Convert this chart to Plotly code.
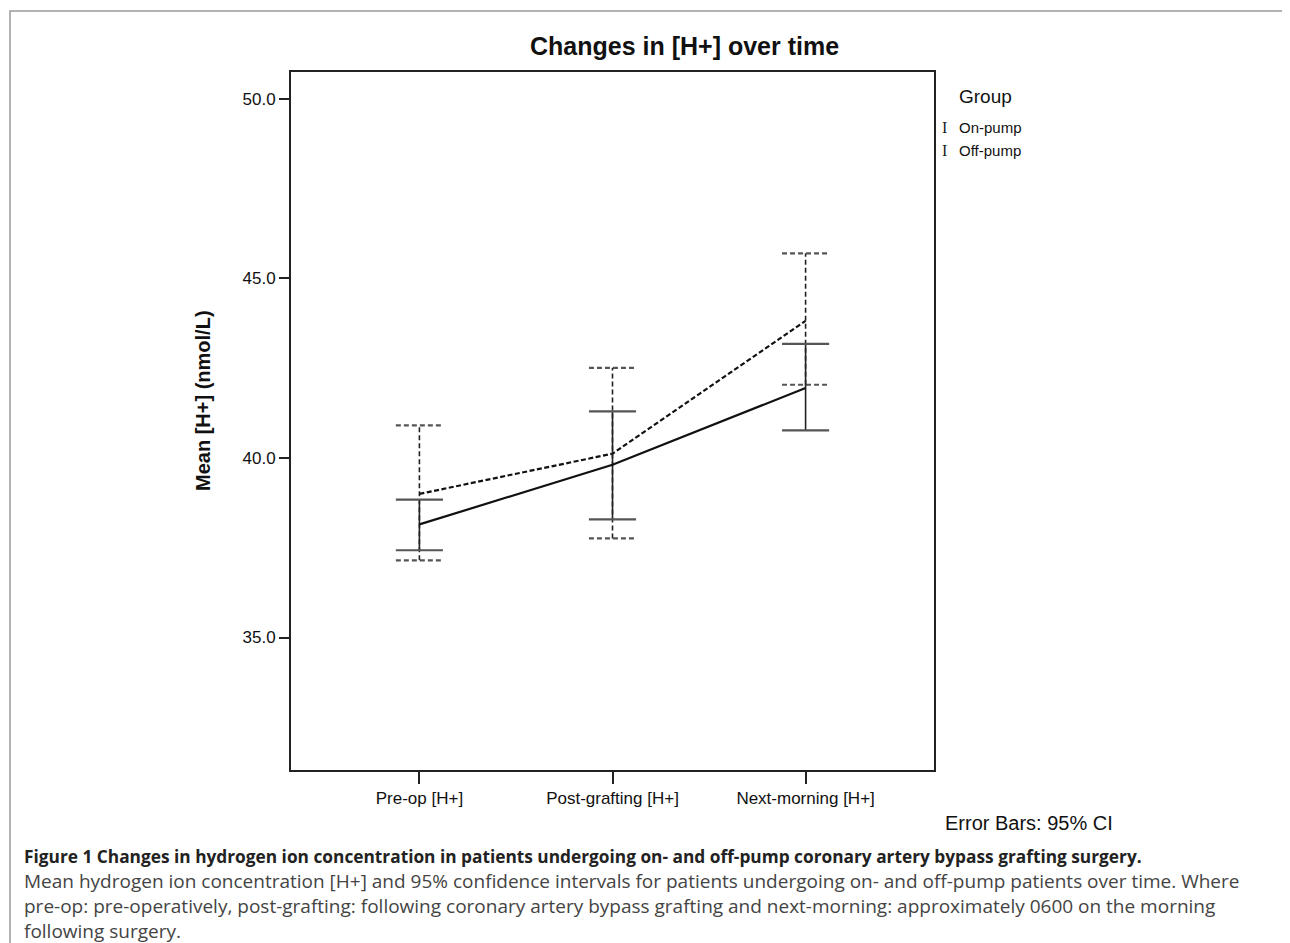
import plotly.graph_objects as go

# Data (mean [H+] nmol/L and 95% CI)
categories = ["Pre-op [H+]", "Post-grafting [H+]", "Next-morning [H+]"]
on_mean = [38.15, 39.81, 41.95]
on_lo = [37.43, 38.29, 40.77]
on_hi = [38.84, 41.30, 43.18]
off_mean = [39.00, 40.12, 43.82]
off_lo = [37.15, 37.76, 42.04]
off_hi = [40.91, 42.51, 45.70]
y_ticks = [35.0, 40.0, 45.0, 50.0]

caption_bold = ("Figure 1 Changes in hydrogen ion concentration in patients undergoing on- and "
                "off-pump coronary artery bypass grafting surgery.")
caption_lines = [
    "Mean hydrogen ion concentration [H+] and 95% confidence intervals for patients undergoing on- and off-pump patients over time. Where",
    "pre-op: pre-operatively, post-grafting: following coronary artery bypass grafting and next-morning: approximately 0600 on the morning",
    "following surgery.",
]

W, H = 1290, 943
L, R, T, B = 283, 926, 64, 762   # plot box in pixels
CAP = 0.122  # half width of error bar caps (x units)
FONT = "Liberation Sans, Arial, sans-serif"


def px(x):
    return (x - L) / (R - L)


def py(y):
    return (B - y) / (B - T)


def bar_paths(lo, hi):
    # vertical stems and caps for error bars, built from the CI lists
    vx, vy, cx, cy = [], [], [], []
    for i in range(len(lo)):
        vx += [i, i, None]
        vy += [lo[i], hi[i], None]
        for v in (lo[i], hi[i]):
            cx += [i - CAP, i + CAP, None]
            cy += [v, v, None]
    return vx, vy, cx, cy


idx = list(range(len(categories)))
fig = go.Figure()

# Off-pump (dashed)
vx, vy, cx, cy = bar_paths(off_lo, off_hi)
fig.add_trace(go.Scatter(x=vx, y=vy, mode="lines", line=dict(color="#222", width=1.6, dash="5px,3px"),
                         hoverinfo="skip", showlegend=False))
fig.add_trace(go.Scatter(x=cx, y=cy, mode="lines", line=dict(color="#555", width=2.2, dash="5px,3px"),
                         hoverinfo="skip", showlegend=False))
fig.add_trace(go.Scatter(x=idx, y=off_mean, mode="lines", name="Off-pump",
                         line=dict(color="#111", width=2.2, dash="5px,2.5px"), showlegend=False))

# On-pump (solid)
vx, vy, cx, cy = bar_paths(on_lo, on_hi)
fig.add_trace(go.Scatter(x=vx, y=vy, mode="lines", line=dict(color="#222", width=1.6),
                         hoverinfo="skip", showlegend=False))
fig.add_trace(go.Scatter(x=cx, y=cy, mode="lines", line=dict(color="#555", width=2.2),
                         hoverinfo="skip", showlegend=False))
fig.add_trace(go.Scatter(x=idx, y=on_mean, mode="lines", name="On-pump",
                         line=dict(color="#111", width=2.2), showlegend=False))

fig.update_xaxes(range=[-0.665, 2.665], tickvals=idx, ticktext=categories,
                 showline=True, mirror=True, linecolor="#222", linewidth=2,
                 ticks="outside", ticklen=12, tickwidth=1.5, tickcolor="#222",
                 showgrid=False, zeroline=False,
                 tickfont=dict(family=FONT, size=17, color="#111"))
fig.update_yaxes(range=[31.31, 50.75], tickvals=y_ticks, tickformat=".1f",
                 showline=True, mirror=True, linecolor="#222", linewidth=2,
                 ticks="outside", ticklen=10, tickwidth=1.5, tickcolor="#222",
                 showgrid=False, zeroline=False,
                 tickfont=dict(family=FONT, size=17, color="#111"))

ann = []
ann.append(dict(text="<b>Changes in [H+] over time</b>", x=px(676), y=py(38),
                font=dict(family=FONT, size=25, color="#111")))
ann.append(dict(text="<b>Mean [H+] (nmol/L)</b>", x=px(195), y=py(393), textangle=-90,
                font=dict(family=FONT, size=20, color="#111")))
ann.append(dict(text="Group", x=px(949), y=py(88), xanchor="left",
                font=dict(family=FONT, size=19, color="#111")))
for label, yy in (("On-pump", 120), ("Off-pump", 142)):
    ann.append(dict(text="I", x=px(936), y=py(yy),
                    font=dict(family="Liberation Serif, serif", size=16, color="#222")))
    ann.append(dict(text=label, x=px(949), y=py(yy), xanchor="left",
                    font=dict(family=FONT, size=15, color="#111")))
ann.append(dict(text="Error Bars: 95% CI", x=px(935), y=py(815), xanchor="left",
                font=dict(family=FONT, size=20, color="#111")))
ann.append(dict(text="<b>" + caption_bold + "</b>", x=px(14), y=py(848), xanchor="left",
                font=dict(family="Open Sans, sans-serif", size=17.3, color="#222")))
for k, line in enumerate(caption_lines):
    ann.append(dict(text=line, x=px(14), y=py(873 + 25 * k), xanchor="left",
                    font=dict(family="Open Sans, sans-serif", size=19, color="#444")))
for a in ann:
    a.update(xref="paper", yref="paper", showarrow=False)
    a.setdefault("xanchor", "center")
    a.setdefault("yanchor", "middle")

fig.update_layout(
    width=W, height=H,
    margin=dict(l=L, r=W - R, t=T, b=H - B),
    paper_bgcolor="white", plot_bgcolor="white",
    annotations=ann,
    showlegend=False,
)

# outer figure frame with a rounded top-right corner (pixel coords -> paper)
frame = "M {a},{b} L {a},{c} L {d},{c} Q {e},{c} {e},{f} L {e},{b}".format(
    a=px(2), b=py(943), c=py(3), d=px(1278), e=px(1287), f=py(12))
fig.add_shape(type="path", path=frame, xref="paper", yref="paper", line=dict(color="#999", width=1.5))

fig.write_html("out.html")
